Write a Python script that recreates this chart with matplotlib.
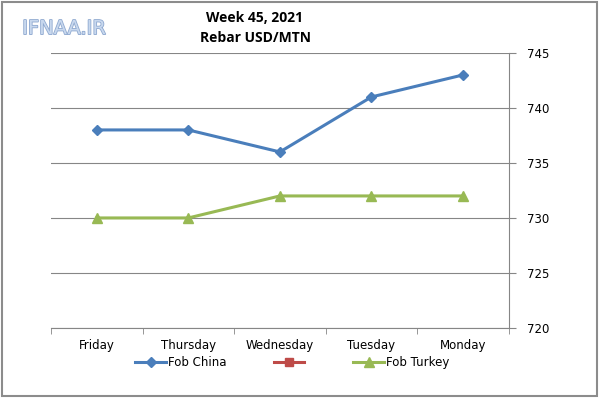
import matplotlib
matplotlib.use("Agg")
import matplotlib.pyplot as plt
from matplotlib.lines import Line2D
from matplotlib.patches import Rectangle
import matplotlib.patheffects as pe

days = ["Friday", "Thursday", "Wednesday", "Tuesday", "Monday"]
fob_china = [738, 738, 736, 741, 743]
fob_turkey = [730, 730, 732, 732, 732]
y_ticks = [720, 725, 730, 735, 740, 745]

blue = "#4a7ebb"
red = "#be4b48"
green = "#98b954"
grid_col = "#868686"

fig = plt.figure(figsize=(6.0, 3.98), dpi=100)
ax = fig.add_axes([0.085, 0.176, 0.763, 0.691])

x = list(range(len(days)))
ax.plot(x, fob_china, color=blue, lw=2.2, marker="D", ms=5, zorder=3)
ax.plot(x, fob_turkey, color=green, lw=2.2, marker="^", ms=6.5, zorder=3)

ax.set_xlim(-0.5, len(days) - 0.5)
ax.set_ylim(min(y_ticks), max(y_ticks))
ax.set_xticks(x)
ax.set_xticklabels(days)
ax.set_xticks([i - 0.5 for i in range(len(days) + 1)], minor=True)
ax.tick_params(axis="x", which="major", length=0, pad=8, labelsize=8.5)
ax.tick_params(axis="x", which="minor", length=4, color=grid_col, direction="out")

ax.yaxis.tick_right()
ax.set_yticks(y_ticks)
ax.tick_params(axis="y", length=5, color=grid_col, direction="out", pad=8, labelsize=8.5)
ax.grid(axis="y", color=grid_col, lw=0.8)
ax.set_axisbelow(True)

for side in ["left", "top"]:
    ax.spines[side].set_visible(False)
for side in ["right", "bottom"]:
    ax.spines[side].set_color(grid_col)
    ax.spines[side].set_linewidth(0.8)

handles = [
    Line2D([], [], color=blue, lw=2.2, marker="D", ms=5),
    Line2D([], [], color=red, lw=2.2, marker="s", ms=6),
    Line2D([], [], color=green, lw=2.2, marker="^", ms=6.5),
]
labels = ["Fob China", "", "Fob Turkey"]
fig.legend(handles, labels, loc="center", bbox_to_anchor=(0.487, 0.088), ncol=3,
           frameon=False, fontsize=8.5, handlelength=2.6, handletextpad=0.15,
           columnspacing=4.0)

fig.text(0.425, 0.955, "Week 45, 2021", ha="center", va="center",
         fontsize=10, fontweight="bold", family="Open Sans")
fig.text(0.425, 0.905, "Rebar USD/MTN", ha="center", va="center",
         fontsize=10, fontweight="bold", family="Open Sans")

fig.text(0.037, 0.928, "IFNAA.IR", ha="left", va="center", fontsize=14,
         color="#c8d8ee", family="DejaVu Sans",
         path_effects=[pe.withStroke(linewidth=1.2, foreground="#8fa9d0")])

fig.patches.append(Rectangle((0.003, 0.004), 0.992, 0.99, transform=fig.transFigure,
                             fill=False, edgecolor="#8c8c8c", lw=1.5))

fig.savefig("out.png", dpi=100)
plt.close(fig)
